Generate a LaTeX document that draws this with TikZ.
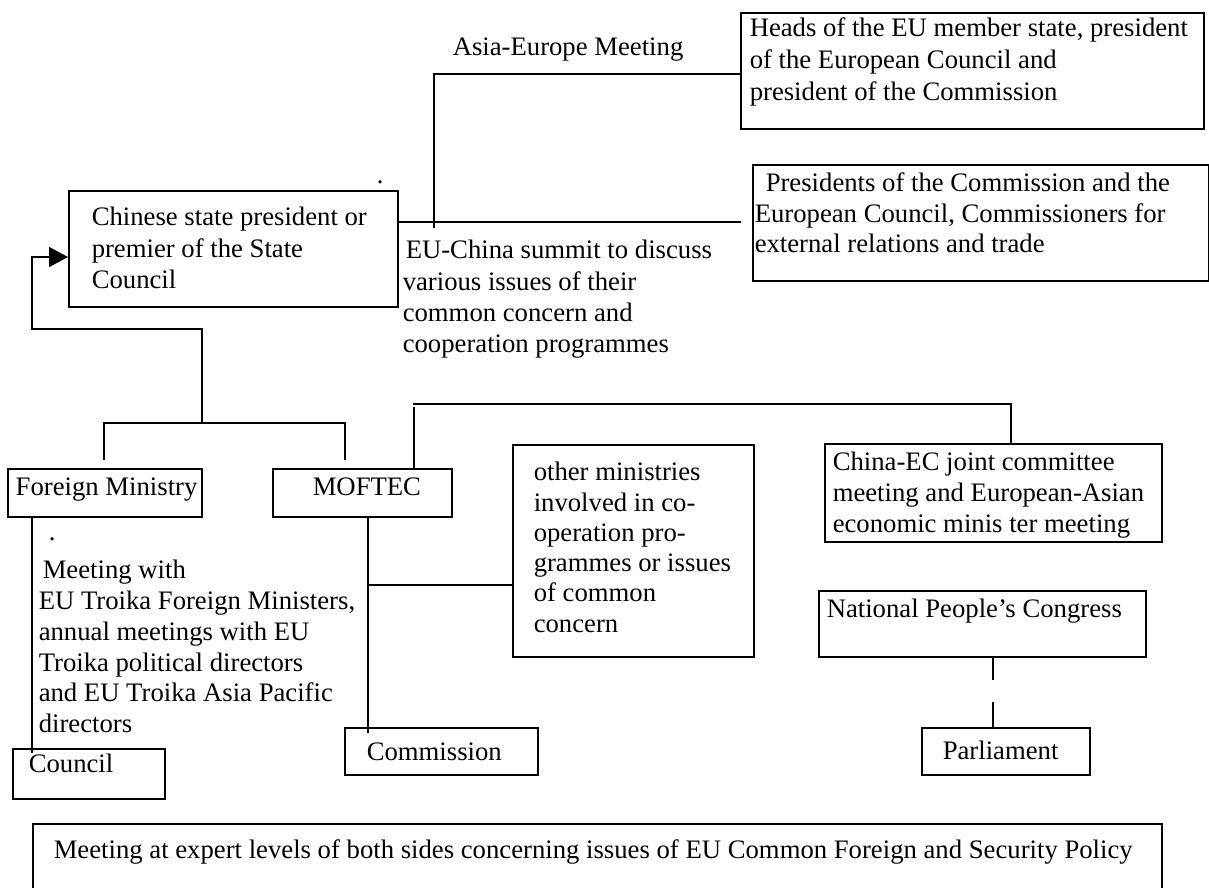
\documentclass[tikz,border=0pt]{standalone}
\usepackage{fontspec}
\setmainfont{Liberation Serif}
\usetikzlibrary{arrows.meta,calc}
\begin{document}
\begin{tikzpicture}[x=1pt,y=-1pt,line width=1.5pt,
  box/.style={draw,inner sep=0pt,anchor=north west},
  txt/.style={inner sep=0pt,anchor=north west,align=left,font=\fontsize{26.7}{#1}\selectfont},
  txt/.default=31.5]
\clip (0,0) rectangle (1209,887);
% boxes
\node[box,minimum width=329pt,minimum height=116pt] (chinese) at (68,190) {};
\node[box,minimum width=463pt,minimum height=116pt] (heads) at (740,12) {};
\node[box,minimum width=456pt,minimum height=116pt] (pres) at (752,164) {};
\node[box,minimum width=194pt,minimum height=48pt] (fm) at (7,468) {};
\node[box,minimum width=179pt,minimum height=48pt] (moftec) at (272,468) {};
\node[box,minimum width=241pt,minimum height=212pt] (other) at (512,444) {};
\node[box,minimum width=337pt,minimum height=98pt] (chinaec) at (824,443) {};
\node[box,minimum width=327pt,minimum height=66pt] (npc) at (818,590) {};
\node[box,minimum width=152pt,minimum height=50pt] (council) at (12,748) {};
\node[box,minimum width=193pt,minimum height=47pt] (commission) at (344,727) {};
\node[box,minimum width=168pt,minimum height=47pt] (parliament) at (921,727) {};
\node[box,minimum width=1129pt,minimum height=100pt] (bottom) at (32,823) {};
% texts
\node[txt] (tasia) at (452,35) {\rule{0pt}{20pt}Asia-Europe Meeting};
\node[txt=32] (theads) at (749,16) {\rule{0pt}{20pt}Heads of the EU member state, president\\of the European Council and\\president of the Commission};
\node[txt=30.5] (tpres) at (754,171) {\rule{0pt}{20pt}\hspace*{11pt}Presidents of the Commission and the\\European Council, Commissioners for\\external relations and trade};
\node[txt=31.5] (tchinese) at (91,205) {\rule{0pt}{20pt}Chinese state president or\\premier of the State\\Council};
\node[txt=31.3] (tsummit) at (402,238) {\rule{0pt}{20pt}\hspace*{3pt}EU-China summit to discuss\\various issues of their\\common concern and\\cooperation programmes};
\node[txt] (tdot1) at (376,163) {\rule{0pt}{20pt}.};
\node[txt] (tfm) at (15,475) {\rule{0pt}{20pt}Foreign Ministry};
\node[txt] (tmoftec) at (312,475) {\rule{0pt}{20pt}MOFTEC};
\node[txt] (tdot2) at (48,520) {\rule{0pt}{20pt}.};
\node[txt=30.8] (tmeeting) at (38,558) {\rule{0pt}{20pt}\hspace*{4pt}Meeting with\\EU Troika Foreign Ministers,\\annual meetings with EU\\Troika political directors\\and EU Troika Asia Pacific\\directors};
\node[txt] (tcouncil) at (28,752) {\rule{0pt}{20pt}Council};
\node[txt] (tcommission) at (366,740) {\rule{0pt}{20pt}Commission};
\node[txt=30.3] (tother) at (533,460) {\rule{0pt}{20pt}other ministries\\involved in co-\\operation pro-\\grammes or issues\\of common\\concern};
\node[txt=31] (tchinaec) at (832,450) {\rule{0pt}{20pt}China-EC joint committee\\meeting and European-Asian\\economic minis ter meeting};
\node[txt] (tnpc) at (826,597) {\rule{0pt}{20pt}National People’s Congress};
\node[txt] (tparl) at (942,739) {\rule{0pt}{20pt}Parliament};
\node[txt] (tbottom) at (53,838) {\rule{0pt}{20pt}Meeting at expert levels of both sides concerning issues of EU Common Foreign and Security Policy};
% free-end coordinates
\coordinate (aeFoot) at (434,228);
\coordinate (aeCorner) at (434,74);
\coordinate (sumEnd) at (741,222);
\coordinate (treeTop) at (202,329);
\coordinate (treeJoin) at (202,423);
\coordinate (arrowCorner) at (32,329);
\coordinate (arrowBend) at (32,257);
\coordinate (fmStub) at (104,460);
\coordinate (moStub) at (345,460);
\coordinate (midJoin) at (368,585);
\coordinate (mTop) at (414,407);
\coordinate (hLeft) at (413,404);
\coordinate (hRight) at (1011,404);
\coordinate (dashA) at (993,680);
\coordinate (dashB) at (993,702);
% connectors
\draw (aeFoot) -- (aeCorner) -- ($(heads.north west)+(0,62)$);
\draw ($(chinese.north east)+(0,32)$) -- (sumEnd);
\draw[-{Triangle[length=19pt,width=20pt]}] (treeJoin) -- (treeTop) -- (arrowCorner) -- (arrowBend) -- ($(chinese.north west)+(0,67)$);
\draw (fmStub) -- (fmStub |- treeJoin) -- (moStub |- treeJoin) -- (moStub);
\draw ($(fm.south west)+(25,0)$) -- ($(council.north west)+(20,5)$);
\draw ($(moftec.south west)+(96,0)$) -- ($(commission.north west)+(24,6)$);
\draw (midJoin) -- ($(other.north west)+(0,141)$);
\draw ($(moftec.north west)+(142,0)$) -- (mTop);
\draw (hLeft) -- (hRight) -- ($(chinaec.north west)+(187,0)$);
\draw ($(npc.south west)+(175,0)$) -- (dashA);
\draw (dashB) -- ($(parliament.north west)+(72,0)$);
\end{tikzpicture}
\end{document}
